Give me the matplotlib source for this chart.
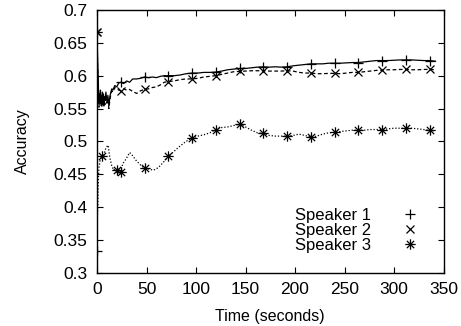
import matplotlib
matplotlib.use("Agg")
import matplotlib.pyplot as plt
from matplotlib.path import Path
from matplotlib.lines import Line2D
from matplotlib.ticker import FuncFormatter, MultipleLocator

plt.rcParams['font.family'] = ['Liberation Sans', 'DejaVu Sans']

# ---- data ----
s1_x = [0, 0.4, 0.8, 1.2, 1.6, 2, 2.5, 3, 3.5, 4, 4.5, 5, 5.5, 6, 6.5, 7, 7.5, 8, 9, 10,
        11, 12, 13, 14, 15, 16, 18, 20, 22, 24, 27, 30, 33, 36, 40, 44, 48, 52, 56, 60,
        64, 68, 72, 78, 84, 90, 96, 102, 108, 114, 120, 126, 132, 138, 144, 150, 156, 162,
        168, 174, 180, 186, 192, 198, 204, 210, 216, 222, 228, 234, 240, 246, 252, 258,
        264, 270, 276, 282, 288, 294, 300, 306, 312, 318, 324, 330, 336, 342]
s1_y = [0.333, 0.640, 0.615, 0.600, 0.575, 0.560, 0.572, 0.566, 0.578, 0.560, 0.570, 0.556,
        0.575, 0.565, 0.572, 0.558, 0.568, 0.562, 0.575, 0.560, 0.570, 0.555, 0.568, 0.575,
        0.580, 0.578, 0.585, 0.583, 0.589, 0.590, 0.588, 0.592, 0.590, 0.595, 0.595, 0.596,
        0.598, 0.597, 0.598, 0.597, 0.599, 0.600, 0.600, 0.600, 0.601, 0.603, 0.604, 0.604,
        0.605, 0.605, 0.6055, 0.607, 0.609, 0.610, 0.611, 0.611, 0.612, 0.613, 0.6135, 0.613,
        0.6135, 0.613, 0.6135, 0.615, 0.616, 0.617, 0.618, 0.618, 0.618, 0.619, 0.619, 0.619,
        0.6195, 0.620, 0.620, 0.621, 0.622, 0.623, 0.623, 0.623, 0.6235, 0.624, 0.624, 0.624,
        0.6235, 0.623, 0.623, 0.622]

s2_x = s1_x
s2_y = [0.667, 0.630, 0.600, 0.585, 0.560, 0.552, 0.565, 0.558, 0.570, 0.555, 0.566, 0.552,
        0.570, 0.560, 0.566, 0.552, 0.562, 0.556, 0.570, 0.558, 0.565, 0.550, 0.563, 0.572,
        0.577, 0.575, 0.582, 0.580, 0.578, 0.577, 0.580, 0.578, 0.579, 0.576, 0.573, 0.577,
        0.579, 0.580, 0.582, 0.583, 0.586, 0.590, 0.591, 0.592, 0.594, 0.595, 0.595, 0.596,
        0.598, 0.599, 0.600, 0.602, 0.604, 0.606, 0.6065, 0.607, 0.6075, 0.6075, 0.6075, 0.607,
        0.607, 0.607, 0.6075, 0.607, 0.605, 0.604, 0.604, 0.603, 0.603, 0.6035, 0.6035, 0.603,
        0.604, 0.605, 0.605, 0.606, 0.607, 0.608, 0.6085, 0.609, 0.609, 0.6095, 0.6095, 0.609,
        0.609, 0.6095, 0.6095, 0.609]

s3_x = [0, 0.4, 0.8, 1.2, 1.6, 2, 3, 4, 5, 6, 7, 8, 9, 10, 11.4, 12, 13, 15, 17, 18, 20, 22,
        24, 26, 28, 30, 33, 36, 40, 44, 48, 52, 57, 62, 67, 72, 78, 84, 90, 96, 102, 108,
        114, 120, 126, 132, 138, 144, 150, 156, 162, 168, 174, 180, 186, 192, 198, 204, 210,
        216, 222, 228, 234, 240, 246, 252, 258, 264, 270, 276, 282, 288, 294, 300, 306, 312,
        318, 324, 330, 336, 342]
s3_y = [0.667, 0.385, 0.400, 0.430, 0.450, 0.460, 0.470, 0.474, 0.477, 0.475, 0.480, 0.485,
        0.490, 0.492, 0.494, 0.485, 0.475, 0.462, 0.456, 0.458, 0.457, 0.452, 0.454, 0.466,
        0.470, 0.475, 0.483, 0.478, 0.470, 0.464, 0.459, 0.458, 0.456, 0.460, 0.468, 0.477,
        0.485, 0.493, 0.500, 0.505, 0.508, 0.510, 0.513, 0.518, 0.521, 0.522, 0.524, 0.526,
        0.522, 0.517, 0.513, 0.512, 0.509, 0.508, 0.508, 0.508, 0.509, 0.511, 0.509, 0.5065,
        0.508, 0.511, 0.513, 0.5137, 0.515, 0.516, 0.517, 0.517, 0.517, 0.518, 0.518, 0.518,
        0.519, 0.520, 0.520, 0.520, 0.520, 0.519, 0.518, 0.517, 0.5157]

marker_times = [0, 24, 48, 72, 96, 120, 144, 168, 192, 216, 240, 264, 288, 312, 336]
s3_extra_marks = [5, 20]

labels = ["Speaker 1", "Speaker 2", "Speaker 3"]
x_ticks = [0, 50, 100, 150, 200, 250, 300, 350]

# ---- figure ----
fig = plt.figure(figsize=(4.61, 3.26), dpi=100)
ax = fig.add_axes([97/461, 1 - 272.7/326, (443.5 - 97)/461, (272.7 - 10)/326])

# asterisk marker (gnuplot style star)
verts = [(-1, 0), (1, 0), (0, -1), (0, 1), (-0.7, -0.7), (0.7, 0.7), (-0.7, 0.7), (0.7, -0.7)]
codes = [Path.MOVETO, Path.LINETO] * 4
star = Path(verts, codes)

def idx(xs, marks):
    return [xs.index(m) for m in marks if m in xs]

lw = 0.9
ms = 7.5
ax.plot(s1_x, s1_y, color='black', lw=lw, ls='-', marker='+', ms=ms, mew=lw,
        markevery=idx(s1_x, marker_times))
ax.plot(s2_x, s2_y, color='black', lw=lw, ls=(0, (3, 2)), marker='x', ms=ms * 0.8, mew=lw,
        markevery=idx(s2_x, marker_times))
ax.plot(s3_x, s3_y, color='black', lw=lw, ls=(0, (1, 1.5)), marker=star, ms=ms, mew=lw,
        mfc='none', mec='black',
        markevery=sorted(idx(s3_x, marker_times + s3_extra_marks)))

ax.set_xlim(0, 350)
ax.set_ylim(0.3, 0.7)
ax.set_xticks(x_ticks)
ax.yaxis.set_major_locator(MultipleLocator(0.05))
ax.yaxis.set_major_formatter(FuncFormatter(lambda v, p: f"{v:g}"))
ax.tick_params(direction='in', length=4, width=0.8, top=True, right=True, labelsize=12.5)
ax.tick_params(axis='x', pad=7)
ax.tick_params(axis='y', pad=7)
for s in ax.spines.values():
    s.set_linewidth(1.0)

ax.set_xlabel("Time (seconds)", fontsize=11.5, labelpad=8)
ax.set_ylabel("Accuracy", fontsize=11.5, labelpad=17)

handles = [
    Line2D([], [], color='black', ls='none', marker='+', ms=ms, mew=lw),
    Line2D([], [], color='black', ls='none', marker='x', ms=ms * 0.8, mew=lw),
    Line2D([], [], color='black', ls='none', marker=star, ms=ms, mew=lw, mfc='none', mec='black'),
]
ax.legend(handles, labels, loc='lower right', markerfirst=False, frameon=False,
          fontsize=12, handlelength=2.0, labelspacing=0.0, handletextpad=1.3,
          borderaxespad=0.0, bbox_to_anchor=(0.97, 0.05))

fig.savefig("out.png", dpi=100)
